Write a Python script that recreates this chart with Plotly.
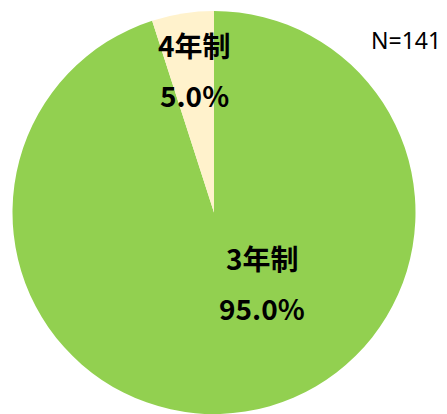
import plotly.graph_objects as go

categories = ["3年制", "4年制"]
counts = [134, 7]
colors = ["#92D050", "#FFF2CC"]
total_label = "N=141"

# page body has an 8px margin; the figure fills the rest of the 447x414 window
OFF = 8
W, H = 447 - OFF, 414 - OFF
total = sum(counts)
pcts = [f"{c / total * 100:.1f}%" for c in counts]


def px(x):
    return (x - OFF) / W


def py(y):
    return 1 - (y - OFF) / H


fig = go.Figure(go.Pie(
    labels=categories,
    values=counts,
    sort=False,
    direction="clockwise",
    rotation=0,
    marker=dict(colors=colors, line=dict(width=0)),
    textinfo="none",
    hoverinfo="label+percent",
    domain=dict(x=[px(12), px(416)], y=[0, py(11)]),
    showlegend=False,
))

# label positions (reference pixels from top-left)
label_pos = {"3年制": (262, 258, 308), "4年制": (194, 45, 95)}
font_b = dict(family="Noto Sans CJK JP", size=28, color="#000000")
annotations = []
for cat, pct in zip(categories, pcts):
    x, y1, y2 = label_pos[cat]
    annotations.append(dict(x=px(x), y=py(y1), xref="paper", yref="paper",
                            text=f"<b>{cat}</b>", showarrow=False, font=font_b,
                            xanchor="center", yanchor="middle"))
    annotations.append(dict(x=px(x), y=py(y2), xref="paper", yref="paper",
                            text=f"<b>{pct}</b>", showarrow=False, font=font_b,
                            xanchor="center", yanchor="middle"))
annotations.append(dict(x=px(406), y=py(40), xref="paper", yref="paper",
                        text=total_label, showarrow=False,
                        font=dict(family="Noto Sans", size=23, color="#000000"),
                        xanchor="center", yanchor="middle"))

fig.update_layout(
    width=W, height=H,
    margin=dict(l=0, r=0, t=0, b=0),
    paper_bgcolor="white", plot_bgcolor="white",
    annotations=annotations,
)
fig.write_html("out.html")
